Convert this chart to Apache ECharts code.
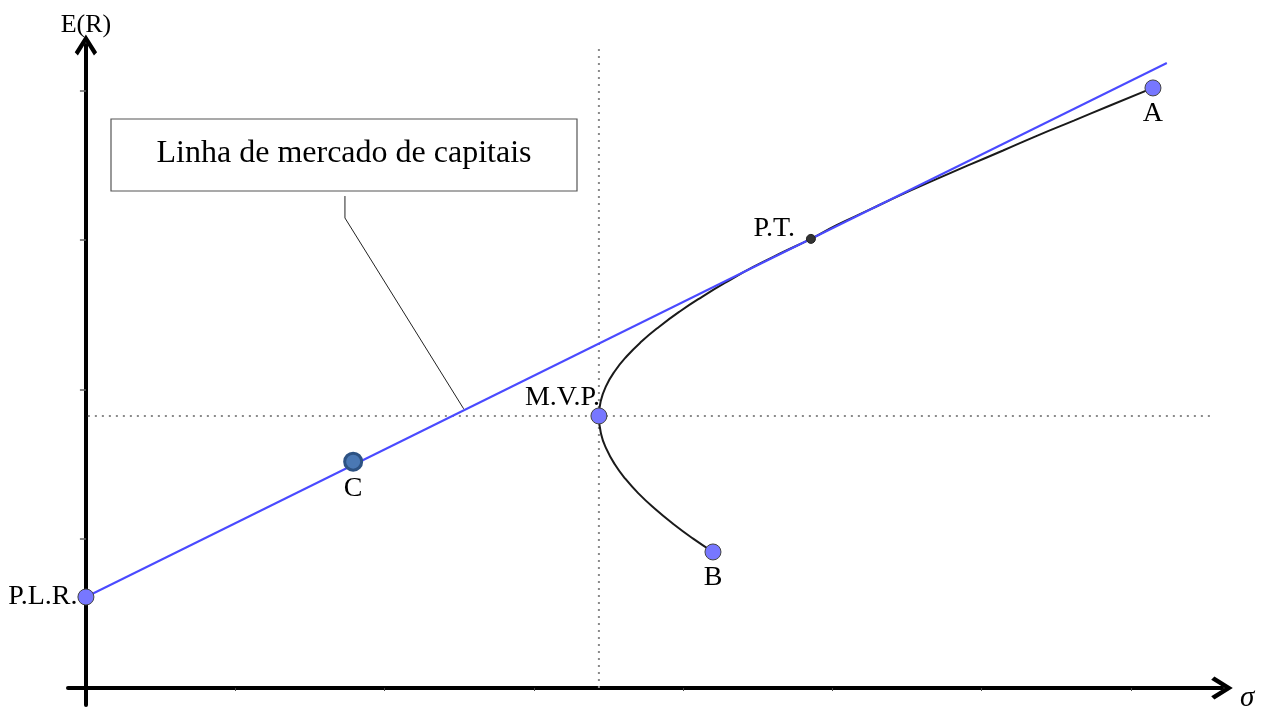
<!DOCTYPE html>
<html>
<head>
<meta charset="utf-8">
<style>
  html, body { margin: 0; padding: 0; background: #fff; }
  #chart { width: 1262px; height: 708px; }
</style>
<script src="https://cdn.jsdelivr.net/npm/echarts@6/dist/echarts.min.js"></script>
</head>
<body>
<div id="chart"></div>
<script>
// ---- data (sigma = risk, ret = expected return) ----
const pointNames  = ['P.L.R.', 'C', 'M.V.P.', 'B', 'P.T.', 'A'];
const pointSigma  = [0, 1.79, 3.436, 4.20, 4.856, 7.147];
const pointReturn = [0.6095, 1.516, 1.822, 0.911, 3.008, 4.019];

const cmlSigma  = [0, 7.24];
const cmlReturn = [0.6095, 4.186];

// efficient frontier, from B up through M.V.P. and P.T. to A
const frontierSigma  = [4.200, 4.067, 3.932, 3.811, 3.704, 3.614, 3.541, 3.487, 3.451, 3.436,
                        3.448, 3.483, 3.541, 3.621, 3.721, 3.840, 3.975, 4.127, 4.292, 4.470,
                        4.671, 4.856, 5.028, 5.242, 5.452, 5.677, 5.908, 6.143, 6.373, 6.617,
                        6.856, 7.147];
const frontierReturn = [0.911, 1.000, 1.100, 1.200, 1.300, 1.400, 1.500, 1.600, 1.700, 1.822,
                        1.920, 2.020, 2.120, 2.220, 2.320, 2.420, 2.520, 2.620, 2.720, 2.820,
                        2.920, 3.008, 3.100, 3.200, 3.300, 3.400, 3.500, 3.600, 3.700, 3.800,
                        3.900, 4.019];

const leaderSigma  = [1.735, 1.735, 2.53];
const leaderReturn = [3.295, 3.148, 1.87];

const xTicks = [1, 2, 3, 4, 5, 6, 7];
const yTicks = [1, 2, 3, 4];
const boxText = 'Linha de mercado de capitais';

const X_MIN = -0.12, X_MAX = 7.6094, Y_MIN = -0.114, Y_MAX = 4.3066;
const V_TOP = 4.287, H_END = 7.54, H_START = 0.013;

const zip = (a, b) => a.map((v, i) => [v, b[i]]);
const serif = 'Liberation Serif, Times New Roman, serif';
const chevron = 'path://M50,0 L100,80 L86,94 L50,36 L14,94 L0,80 Z';

const mvp = [pointSigma[2], pointReturn[2]];

const labelCfg = {
  'P.L.R.': { position: 'left', distance: 0 },
  'C':      { position: 'bottom', distance: 3 },
  'M.V.P.': { position: 'top', distance: 0, align: 'right', offset: [1, 4] },
  'B':      { position: 'bottom', distance: 3 },
  'P.T.':   { position: 'left', distance: 11, offset: [0, -10] },
  'A':      { position: 'bottom', distance: 3 }
};
const pointStyle = {
  'C':    { symbolSize: 17, itemStyle: { color: '#4a78b4', borderColor: '#2d5283', borderWidth: 3, opacity: 1 } },
  'P.T.': { symbolSize: 9,  itemStyle: { color: '#333333', borderColor: '#222', borderWidth: 1, opacity: 1 } }
};

const points = pointNames.map((n, i) => Object.assign({
  name: n,
  value: [pointSigma[i], pointReturn[i]],
  symbolSize: 16,
  itemStyle: { color: '#7777ff', borderColor: '#444', borderWidth: 1, opacity: 1 },
  label: Object.assign({ show: true, formatter: n, color: '#000', fontFamily: serif, fontSize: 28 }, labelCfg[n])
}, pointStyle[n] || {}));

const chart = echarts.init(document.getElementById('chart'), null, { renderer: 'canvas' });
chart.setOption({
  animation: false,
  backgroundColor: '#fff',
  grid: { left: 68, right: 40, top: 45, bottom: 3, containLabel: false, outerBoundsMode: 'none' },
  xAxis: {
    type: 'value', min: X_MIN, max: X_MAX,
    name: 'σ', nameLocation: 'end', nameGap: 18,
    nameTextStyle: { fontFamily: serif, fontStyle: 'italic', fontSize: 29, color: '#000',
                     verticalAlign: 'top', lineHeight: 20 },
    axisLine: { show: true, onZero: true, symbol: ['none', chevron], symbolSize: [23, 22],
                lineStyle: { color: '#000', width: 4 } },
    axisTick: { show: true, customValues: xTicks, length: 3, lineStyle: { color: '#444', width: 1 } },
    axisLabel: { show: false },
    splitLine: { show: false }
  },
  yAxis: {
    type: 'value', min: Y_MIN, max: Y_MAX,
    name: 'E(R)', nameLocation: 'end', nameGap: 7,
    nameTextStyle: { fontFamily: serif, fontSize: 26, color: '#000' },
    axisLine: { show: true, onZero: true, symbol: ['none', chevron], symbolSize: [23, 21],
                lineStyle: { color: '#000', width: 4 } },
    axisTick: { show: true, customValues: yTicks, length: 6, lineStyle: { color: '#666', width: 1.5 } },
    axisLabel: { show: false },
    splitLine: { show: false }
  },
  graphic: [{
    type: 'group',
    children: [
      { type: 'rect', shape: { x: 111, y: 119, width: 466, height: 72 },
        style: { fill: '#fff', stroke: '#555', lineWidth: 1.2 } },
      { type: 'text', x: 344, y: 154,
        style: { text: boxText, font: '32px ' + serif, fill: '#000', align: 'center', verticalAlign: 'middle' } }
    ]
  }],
  series: [
    { type: 'line', data: [[mvp[0], 0], [mvp[0], V_TOP]], symbol: 'none', silent: true, z: 1,
      lineStyle: { color: '#8a8a8a', width: 2, type: [2, 5] } },
    { type: 'line', data: [[H_START, mvp[1]], [H_END, mvp[1]]], symbol: 'none', silent: true, z: 1,
      lineStyle: { color: '#8a8a8a', width: 2, type: [2, 5] } },
    { type: 'line', data: zip(leaderSigma, leaderReturn), symbol: 'none', silent: true, z: 2,
      lineStyle: { color: '#222', width: 1 } },
    { type: 'line', data: zip(frontierSigma, frontierReturn), symbol: 'none', smooth: 0.5,
      silent: true, z: 3, lineStyle: { color: '#1a1a1a', width: 2 } },
    { type: 'line', data: zip(cmlSigma, cmlReturn), symbol: 'none', silent: true, z: 4,
      lineStyle: { color: '#4a4aff', width: 2 } },
    { type: 'scatter', data: points, z: 5, emphasis: { disabled: true } }
  ]
});
</script>
</body>
</html>
